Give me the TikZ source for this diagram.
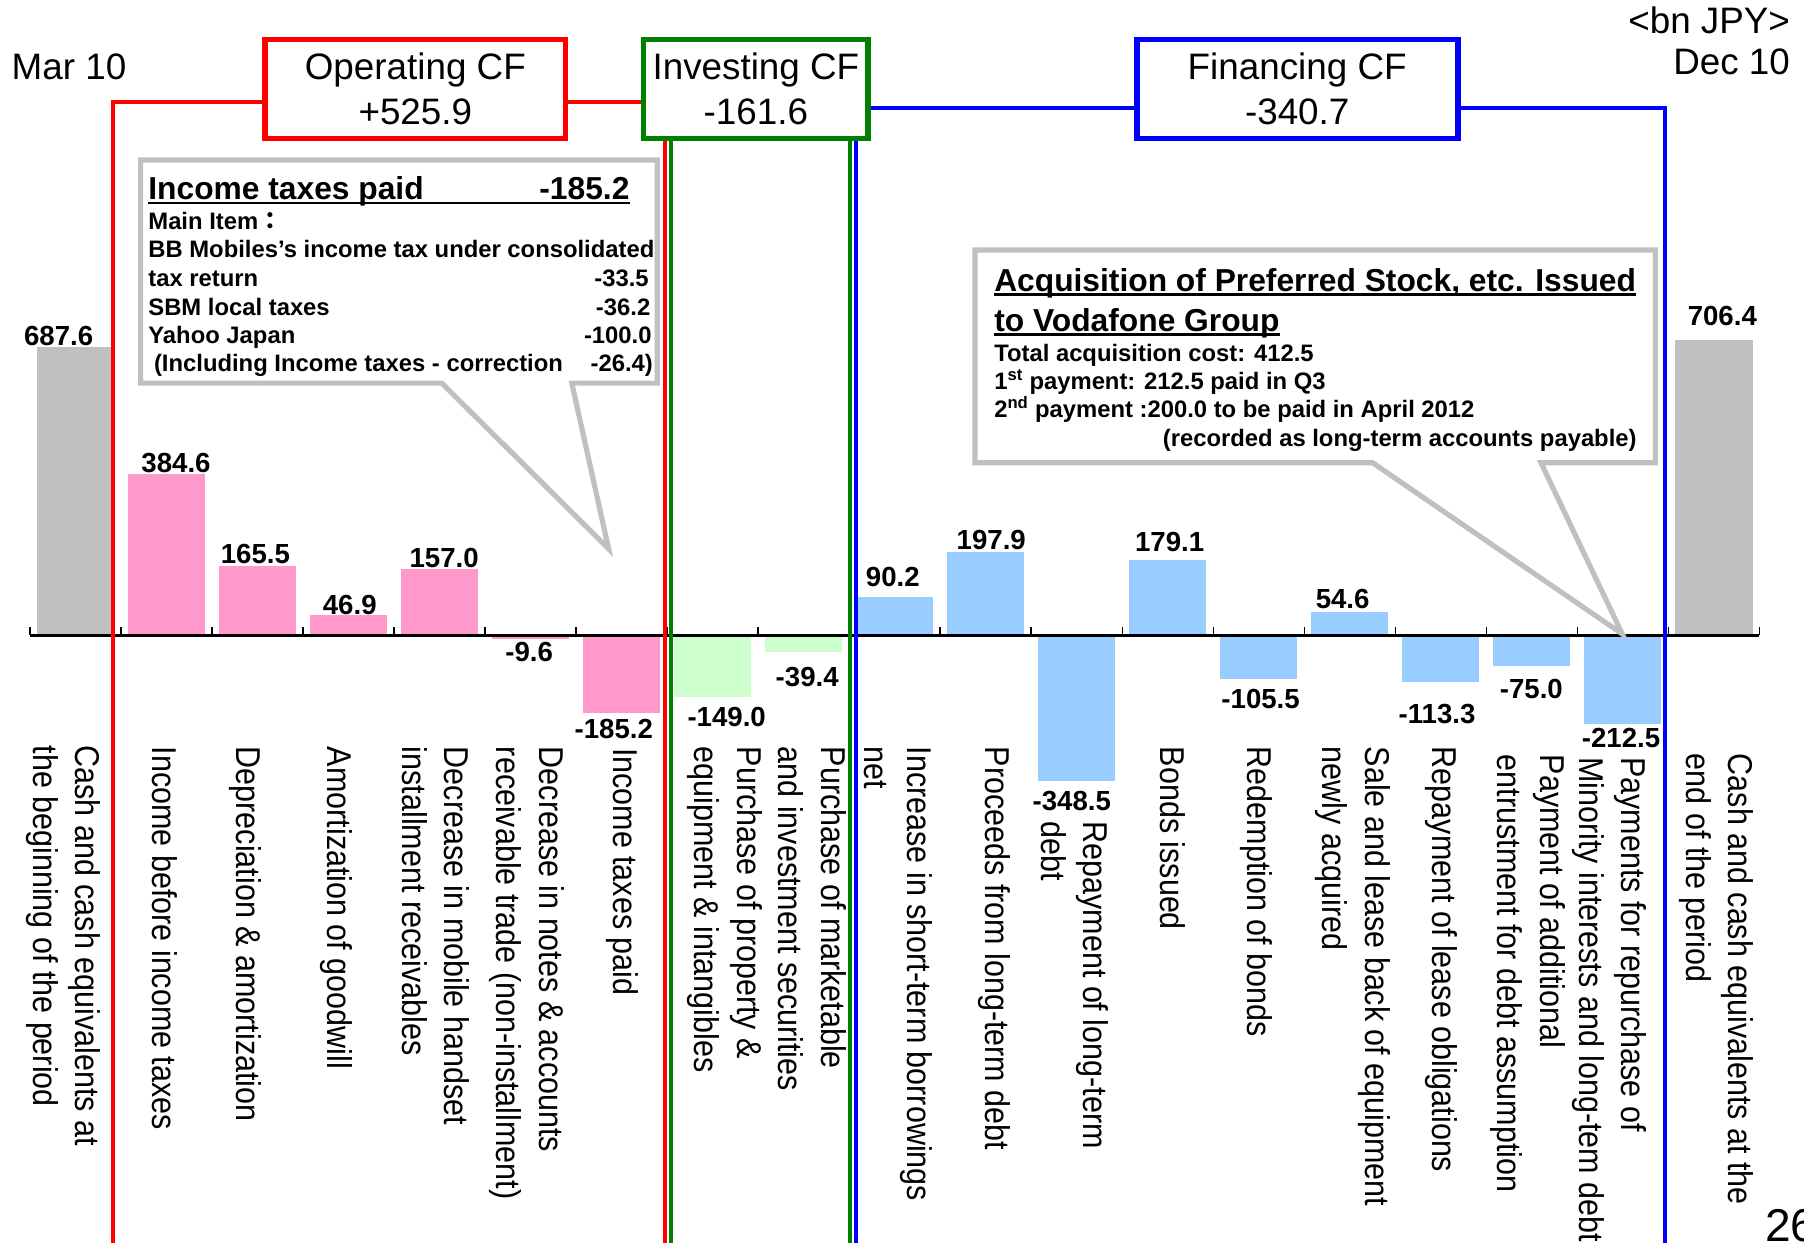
\documentclass[tikz,border=0pt]{standalone}
\usepackage{fontspec}
\setmainfont{Liberation Sans}
\newfontfamily\cjk{Noto Sans CJK JP}
\definecolor{cfred}{RGB}{255,0,0}
\definecolor{cfgreen}{RGB}{0,128,0}
\definecolor{cfblue}{RGB}{0,0,255}
\definecolor{barg}{RGB}{192,192,192}
\definecolor{barp}{RGB}{255,153,204}
\definecolor{barn}{RGB}{204,255,204}
\definecolor{barb}{RGB}{153,204,255}
\definecolor{calgray}{RGB}{192,192,192}
\pgfdeclarelayer{front}
\pgfsetlayers{main,front}
\begin{document}
\begin{tikzpicture}[x=1pt,y=-1pt,
  cfbox/.style={draw, line width=5pt, fill=white, align=center, inner sep=0pt, font=\fontsize{32}{39}\selectfont},
  cfline/.style={line width=3.5pt},
  callout/.style={draw=calgray, line width=4.5pt, fill=white, line join=miter},
  vlbl/.style={inner sep=0pt, anchor=base, font=\bfseries\fontsize{24}{28}\selectfont},
  catlbl/.style={rotate=-90, yscale=1.13, anchor=west, align=left, inner sep=0pt, font=\fontsize{26.5}{32.7}\selectfont},
  ctxt/.style={inner sep=0pt, font=\bfseries\fontsize{20.7}{24.8}\selectfont},
  ctitle/.style={inner sep=0pt, font=\bfseries\fontsize{27.6}{34}\selectfont},
  hdr/.style={inner sep=0pt, font=\fontsize{32}{39}\selectfont},
  uline/.style={line width=2pt},
]
\useasboundingbox (0,0) rectangle (1568,1080);
\fill[white] (0,0) rectangle (1568,1080);

% bars
\foreach \i/\v/\c in {0/687.6/barg,1/384.6/barp,2/165.5/barp,3/46.9/barp,4/157.0/barp,5/-9.6/barp,6/-185.2/barp,7/-149.0/barn,8/-39.4/barn,9/90.2/barb,10/197.9/barb,11/-348.5/barb,12/179.1/barb,13/-105.5/barb,14/54.6/barb,15/-113.3/barb,16/-75.0/barb,17/-212.5/barb,18/706.4/barg}
  \fill[\c] ({65.56+79.12*\i-33.5},552) rectangle ({65.56+79.12*\i+33.5},{552-0.3636*(\v)});

% axis
\draw[line width=2.6pt] (26,552) -- (1529.2,552);
\foreach \k in {0,...,19}
  \draw[line width=1.3pt] ({26+79.12*\k},552) -- ++(0,-7);

% callouts
\draw[callout] (384,333) -- (122.2,333) -- (122.2,139) -- (571.3,139) -- (571.3,333) -- (497,333) -- (529,477) -- cycle;
\draw[callout] (1193,402.2) -- (847.5,402.2) -- (847.5,217.3) -- (1438.8,217.3) -- (1438.8,402.2) -- (1339.4,402.2) -- (1410,551) -- cycle;

% section boxes (on the front layer, above the bracket lines)
\begin{pgfonlayer}{front}
\node[cfbox, draw=cfred, minimum width=261pt, minimum height=86pt] (op) at (361,77.3) {Operating CF\\+525.9};
\node[cfbox, draw=cfgreen, minimum width=195.4pt, minimum height=86pt] (inv) at (657,77.3) {Investing CF\\-161.6};
\node[cfbox, draw=cfblue, minimum width=279pt, minimum height=86pt] (fin) at (1127.5,77.3) {Financing CF\\-340.7};
\end{pgfonlayer}

% bracket lines
\coordinate (r1) at (0,88.4);
\coordinate (b1) at (0,94.2);
\coordinate (rl) at (98.3,1090);
\coordinate (rr) at (578,1090);
\coordinate (gl) at (583.6,1090);
\coordinate (gr) at (738.5,1090);
\coordinate (bl) at (743.6,1090);
\coordinate (br) at (1447.5,1090);
\draw[cfline, cfred] (rl) -- (rl |- r1) -- (op.west |- r1);
\draw[cfline, cfred] (op.east |- r1) -- (inv.west |- r1);
\draw[cfline, cfred] (rr) -- (rr |- inv.south);
\draw[cfline, cfgreen] (gl) -- (gl |- inv.south);
\draw[cfline, cfgreen] (gr) -- (gr |- inv.south);
\draw[cfline, cfblue] (bl) -- (bl |- inv.south);
\draw[cfline, cfblue] (inv.east |- b1) -- (fin.west |- b1);
\draw[cfline, cfblue] (fin.east |- b1) -| (br);

% header texts
\node[hdr, anchor=base west] (mar) at (10,69.5) {Mar 10};
\node[hdr, anchor=base east] (bn) at (1556,29) {<bn JPY>};
\node[hdr, anchor=base east] (dec) at (1556,65) {Dec 10};
\node[inner sep=0pt, anchor=base west, font=\fontsize{40}{44}\selectfont] (pg) at (1534,1078.8) {26};

% callout 1 text
\node[ctitle, anchor=base west] (t1) at (128.8,173.8) {Income taxes paid};
\node[ctitle, anchor=base east] (t1v) at (547.3,173.8) {-185.2};
\draw[uline] ([yshift=-2.5pt]t1.base west) -- ([yshift=-2.5pt]t1v.base east);
\node[ctxt, anchor=base west] (m1) at (128.8,199.3) {Main Item{\cjk ：}};
\node[ctxt, anchor=base west] (m2) at (128.8,224) {BB Mobiles’s income tax under consolidated};
\node[ctxt, anchor=base west] (m3) at (128.8,249.2) {tax return};
\node[ctxt, anchor=base east] (m3v) at (564,249.2) {-33.5};
\node[ctxt, anchor=base west] (m4) at (128.8,273.8) {SBM local taxes};
\node[ctxt, anchor=base east] (m4v) at (565.4,273.8) {-36.2};
\node[ctxt, anchor=base west] (m5) at (128.8,298.4) {Yahoo Japan};
\node[ctxt, anchor=base east] (m5v) at (566.5,298.4) {-100.0};
\node[ctxt, anchor=base west] (m6) at (133.7,323) {(Including Income taxes - correction};
\node[ctxt, anchor=base east] (m6v) at (567.6,323) {-26.4)};

% callout 2 text
\node[ctitle, anchor=base west] (a1) at (864,253.5) {Acquisition of Preferred Stock, etc. Issued};
\draw[uline] ([yshift=-2.5pt]a1.base west) -- ([yshift=-2.5pt]a1.base east);
\node[ctitle, anchor=base west] (a2) at (864,288.3) {to Vodafone Group};
\draw[uline] ([yshift=-2.5pt]a2.base west) -- ([yshift=-2.5pt]a2.base east);
\node[ctxt, anchor=base west] (a3) at (864,314.3) {Total acquisition cost: 412.5};
\node[ctxt, anchor=base west] (a4) at (864,338.4) {1\textsuperscript{st} payment: 212.5 paid in Q3};
\node[ctxt, anchor=base west] (a5) at (864,363) {2\textsuperscript{nd} payment :200.0 to be paid in April 2012};
\node[ctxt, anchor=base east] (a6) at (1422.7,388.2) {(recorded as long-term accounts payable)};

% value labels
\node[vlbl] (v0) at (51,300) {687.6};
\node[vlbl] (v1) at (153,411) {384.6};
\node[vlbl] (v2) at (222,490) {165.5};
\node[vlbl] (v3) at (304,534) {46.9};
\node[vlbl] (v4) at (386,493) {157.0};
\node[vlbl] (v5) at (460,575) {-9.6};
\node[vlbl] (v6) at (533.5,641.6) {-185.2};
\node[vlbl] (v7) at (631.6,631.6) {-149.0};
\node[vlbl] (v8) at (701.6,597) {-39.4};
\node[vlbl] (v9) at (776,510) {90.2};
\node[vlbl] (v10) at (861.6,478) {197.9};
\node[vlbl] (v11) at (931.6,704.6) {-348.5};
\node[vlbl] (v12) at (1016.6,479.5) {179.1};
\node[vlbl] (v13) at (1095.7,615.6) {-105.5};
\node[vlbl] (v14) at (1167,528.6) {54.6};
\node[vlbl] (v15) at (1249,628.6) {-113.3};
\node[vlbl] (v16) at (1331,607) {-75.0};
\node[vlbl] (v17) at (1409,650) {-212.5};
\node[vlbl] (v18) at (1497,282.5) {706.4};

% category labels
\node[catlbl] (c0) at (55,648) {Cash and cash equivalents at\\the beginning of the period};
\node[catlbl] (c1) at (143,649) {Income before income taxes};
\node[catlbl] (c2) at (213,649) {Depreciation \& amortization};
\node[catlbl] (c3) at (292,649) {Amortization of goodwill};
\node[catlbl] (c4) at (379,649) {Decrease in mobile handset\\installment receivables};
\node[catlbl] (c5) at (458,649) {Decrease in notes \& accounts\\receivable trade (non-installment)};
\node[catlbl] (c6) at (541,650) {Income taxes paid};
\node[catlbl] (c7) at (630,649) {Purchase of property \&\\equipment \& intangibles};
\node[catlbl] (c8) at (706,649) {Purchase of marketable\\and investment securities};
\node[catlbl] (c9) at (781,649) {Increase in short-term borrowings\\net};
\node[catlbl] (c10) at (864,649) {Proceeds from long-term debt};
\node[catlbl] (c11) at (934,714) {Repayment of long-term\\debt};
\node[catlbl] (c12) at (1019,649) {Bonds issued};
\node[catlbl] (c13) at (1092,649) {Redemption of bonds};
\node[catlbl] (c14) at (1176,649) {Sale and lease back of equipment\\newly acquired};
\node[catlbl] (c15) at (1253,649) {Repayment of lease obligations};
\node[catlbl] (c16) at (1328,656) {Payment of additional\\entrustment for debt assumption};
\node[catlbl] (c17) at (1399,658) {Payments for repurchase of\\Minority interests and long-tem debt};
\node[catlbl] (c18) at (1492,655) {Cash and cash equivalents at the\\end of the period};
\end{tikzpicture}
\end{document}
